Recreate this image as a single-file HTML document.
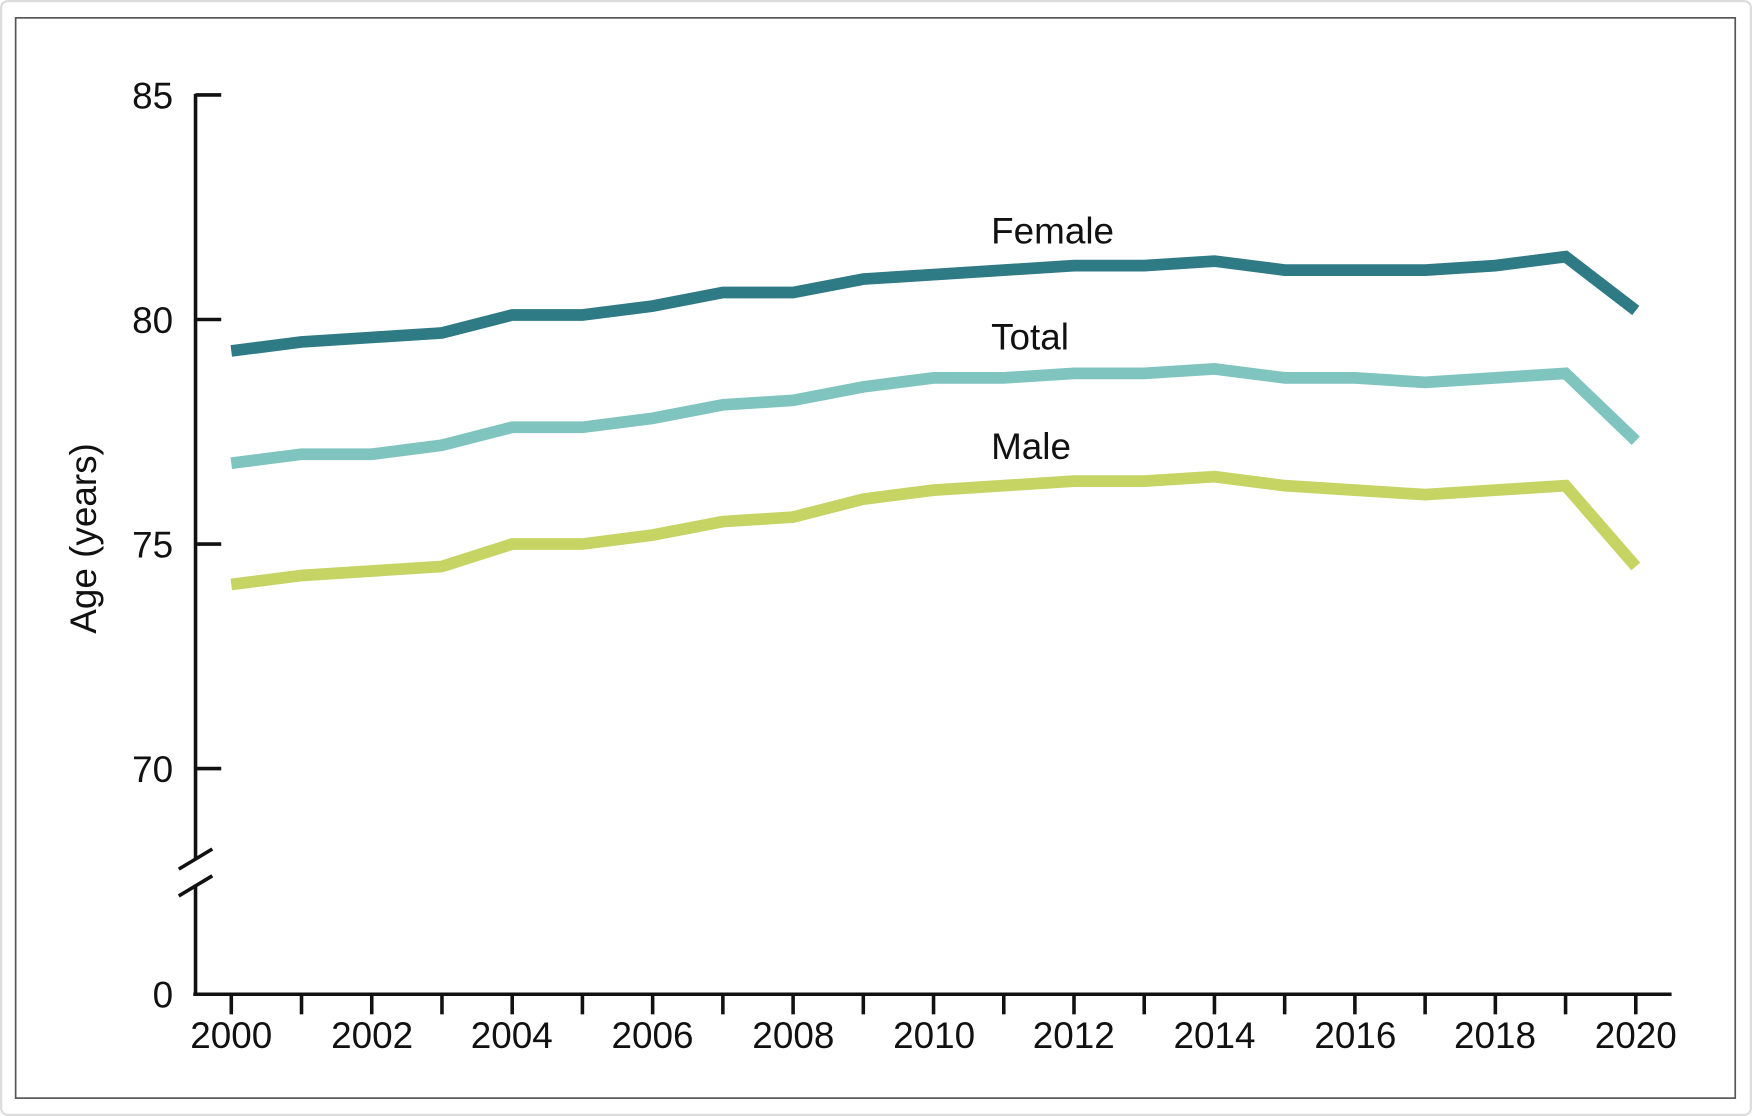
<!DOCTYPE html>
<html><head><meta charset="utf-8">
<style>
html,body{margin:0;padding:0;background:#fff;}
svg{display:block;}
text{font-family:"Liberation Sans",Arial,sans-serif;fill:#111;}
</style></head>
<body>
<svg id="s" width="1752" height="1116" viewBox="0 0 1568 999" preserveAspectRatio="none">
<rect x="1" y="1" width="1566" height="997" fill="#fff" stroke="#ddd" stroke-width="2" rx="6"/>
<rect x="14" y="16" width="1539" height="967" fill="#fff" stroke="#555" stroke-width="1.5"/>
<g stroke="#111" stroke-width="3.2" fill="none">
<line x1="175" y1="84" x2="175" y2="770"/>
<line x1="175" y1="794" x2="175" y2="891"/>
<line x1="160" y1="778" x2="190" y2="760"/>
<line x1="160" y1="802" x2="190" y2="784"/>
<line x1="173" y1="890" x2="1496" y2="890"/>
<line x1="175" y1="85" x2="198" y2="85"/>
<line x1="175" y1="286" x2="198" y2="286"/>
<line x1="175" y1="487" x2="198" y2="487"/>
<line x1="175" y1="688" x2="198" y2="688"/>
</g>
<g id="xt" stroke="#111" stroke-width="3.2"></g>
<g font-size="33" text-anchor="end">
<text x="155" y="97">85</text>
<text x="155" y="298">80</text>
<text x="155" y="499">75</text>
<text x="155" y="700">70</text>
<text x="155" y="902">0</text>
</g>
<g font-size="33" text-anchor="middle">
<text x="207" y="938">2000</text>
<text x="333" y="938">2002</text>
<text x="458" y="938">2004</text>
<text x="584" y="938">2006</text>
<text x="710" y="938">2008</text>
<text x="836" y="938">2010</text>
<text x="961" y="938">2012</text>
<text x="1087" y="938">2014</text>
<text x="1213" y="938">2016</text>
<text x="1338" y="938">2018</text>
<text x="1464" y="938">2020</text>
</g>
<text font-size="33" text-anchor="middle" transform="translate(86,482) rotate(-90)">Age (years)</text>
<g id="lines" fill="none" stroke-width="10.5" stroke-linejoin="miter"></g>
<g font-size="33">
<text x="887" y="218">Female</text>
<text x="887" y="313">Total</text>
<text x="887" y="411">Male</text>
</g>
</svg>
<script>
var ns="http://www.w3.org/2000/svg";
function X(i){return 207+i*62.85;}
function Y(v){return 286-(v-80)*40.2;}
var xt=document.getElementById('xt');
for(var i=0;i<=20;i++){var l=document.createElementNS(ns,'line');l.setAttribute('x1',X(i));l.setAttribute('x2',X(i));l.setAttribute('y1',890);l.setAttribute('y2',908);xt.appendChild(l);}
var data=[
["#2e7a85",[79.3,79.5,79.6,79.7,80.1,80.1,80.3,80.6,80.6,80.9,81.0,81.1,81.2,81.2,81.3,81.1,81.1,81.1,81.2,81.4,80.2]],
["#7fc4bf",[76.8,77.0,77.0,77.2,77.6,77.6,77.8,78.1,78.2,78.5,78.7,78.7,78.8,78.8,78.9,78.7,78.7,78.6,78.7,78.8,77.3]],
["#c5d463",[74.1,74.3,74.4,74.5,75.0,75.0,75.2,75.5,75.6,76.0,76.2,76.3,76.4,76.4,76.5,76.3,76.2,76.1,76.2,76.3,74.5]]];
var g=document.getElementById('lines');
data.forEach(function(d){var p=d[1].map(function(v,i){return X(i)+','+Y(v);}).join(' ');
var pl=document.createElementNS(ns,'polyline');pl.setAttribute('points',p);pl.setAttribute('stroke',d[0]);g.appendChild(pl);});
</script>
</body></html>
